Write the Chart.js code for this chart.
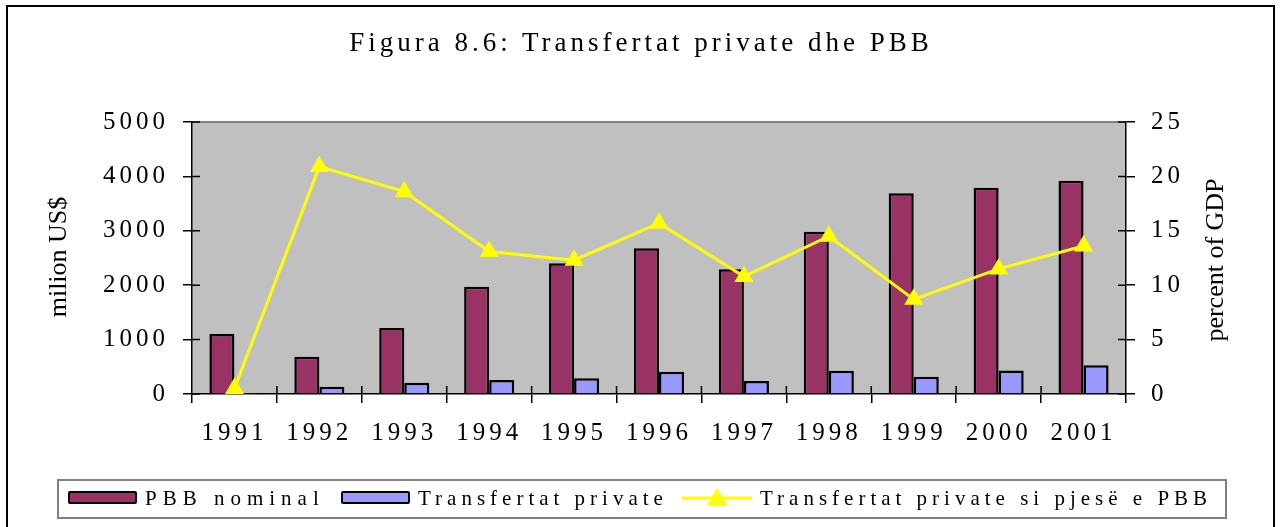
<!DOCTYPE html>
<html>
<head>
<meta charset="utf-8">
<script src="https://cdn.jsdelivr.net/npm/chart.js@4.4.1/dist/chart.umd.min.js"></script>
<style>
  body { margin: 0; background: #fff; }
  #wrap { position: relative; width: 1282px; height: 527px; overflow: hidden;
    font-family: "Liberation Serif", "Times New Roman", serif; color: #000; }
  #frame { position: absolute; left: 6px; top: 5px; width: 1269px; height: 560px; border: 2px solid #000; box-sizing: border-box; }
  #chart { position: absolute; left: 0; top: 0; }
  #title { position: absolute; left: 0; width: 1282px; top: 29px; text-align: center;
    font-size: 27px; line-height: 27px; letter-spacing: 4px; }
  .axisTitle { position: absolute; font-size: 26px; line-height: 26px; white-space: nowrap;
    transform: translate(-50%, -50%) rotate(-90deg); }
  #legend { position: absolute; left: 57px; top: 479px; width: 1170px; height: 40px;
    border: 2px solid #808080; box-sizing: border-box; }
  .sw { position: absolute; top: 10px; width: 69px; height: 13px; border: 2.5px solid #000;
    border-radius: 2px; box-sizing: border-box; }
  .lt { position: absolute; top: 5px; font-size: 21px; line-height: 24px; letter-spacing: 5px; white-space: nowrap; }
  #lineSw { position: absolute; left: 623px; top: 7px; width: 70px; height: 20px; }
</style>
</head>
<body>
<div id="wrap">
  <canvas id="chart" width="1282" height="527"></canvas>
  <div id="frame"></div>
  <div id="title">Figura 8.6: Transfertat private dhe PBB</div>
  <div class="axisTitle" style="left:58px;top:257px;">milion US$</div>
  <div class="axisTitle" style="left:1215px;top:260px;">percent of GDP</div>
  <div id="legend"></div>
</div>
<script>
const years = ['1991', '1992', '1993', '1994', '1995', '1996', '1997', '1998', '1999', '2000', '2001'];
const pbbNominal = [1105, 686, 1213, 1972, 2402, 2678, 2292, 2984, 3689, 3793, 3922];
const transfertat = [8, 134, 208, 257, 288, 410, 239, 428, 318, 430, 527];
const perqindja = [0.5, 20.9, 18.6, 13.1, 12.3, 15.7, 10.8, 14.5, 8.7, 11.5, 13.6];
const seriesNames = ['PBB nominal', 'Transfertat private', 'Transfertat private si pjesë e PBB'];
const leftTicks = [0, 1000, 2000, 3000, 4000, 5000];
const rightTicks = [0, 5, 10, 15, 20, 25];

const MAROON = '#993366';
const LILAC = '#9999FF';
const YELLOW = '#FFFF00';

// legend (html, so the line swatch can carry a triangle)
const legend = document.getElementById('legend');
legend.innerHTML =
  `<div class="sw" style="left:9px;background:${MAROON}"></div>` +
  `<div class="lt" style="left:86px;letter-spacing:6px">${seriesNames[0]}</div>` +
  `<div class="sw" style="left:282px;background:${LILAC}"></div>` +
  `<div class="lt" style="left:359px">${seriesNames[1]}</div>` +
  `<svg id="lineSw" viewBox="0 0 70 20"><line x1="0" y1="10" x2="70" y2="10" stroke="${YELLOW}" stroke-width="3"/>` +
  `<polygon points="35,0 45,17 25,17" fill="${YELLOW}"/></svg>` +
  `<div class="lt" style="left:701px">${seriesNames[2]}</div>`;

const plotBg = {
  id: 'plotBg',
  beforeDraw(chart) {
    const { ctx, chartArea: a } = chart;
    ctx.save();
    ctx.fillStyle = '#C0C0C0';
    ctx.fillRect(a.left, a.top, a.right - a.left, a.bottom - a.top);
    ctx.strokeStyle = '#808080';
    ctx.lineWidth = 2;
    ctx.beginPath();
    ctx.moveTo(a.left, a.top);
    ctx.lineTo(a.right, a.top);
    ctx.stroke();
    ctx.restore();
    chart.ctx.letterSpacing = '4px';
  },
  // inner half of the "cross" tick marks
  afterDatasetsDraw(chart) {
    const { ctx, chartArea: a, scales } = chart;
    ctx.save();
    ctx.strokeStyle = '#000';
    ctx.lineWidth = 1.5;
    ctx.beginPath();
    scales.y.ticks.forEach((t) => {
      const py = scales.y.getPixelForValue(t.value);
      ctx.moveTo(a.left, py); ctx.lineTo(a.left + 8, py);
    });
    scales.y1.ticks.forEach((t) => {
      const py = scales.y1.getPixelForValue(t.value);
      ctx.moveTo(a.right, py); ctx.lineTo(a.right - 8, py);
    });
    const step = (a.right - a.left) / years.length;
    for (let i = 1; i < years.length; i++) {
      const px = a.left + step * i;
      ctx.moveTo(px, a.bottom); ctx.lineTo(px, a.bottom - 8);
    }
    ctx.stroke();
    ctx.restore();
  }
};

const tickFont = { family: '"Liberation Serif", "Times New Roman", serif', size: 25 };
const plain = (v) => String(v);

new Chart(document.getElementById('chart'), {
  type: 'bar',
  data: {
    labels: years,
    datasets: [
      { label: seriesNames[2], type: 'line', data: perqindja, yAxisID: 'y1', order: 0,
        borderColor: YELLOW, borderWidth: 3, backgroundColor: YELLOW,
        pointStyle: 'triangle', pointRadius: 11, pointBorderWidth: 0, pointBackgroundColor: YELLOW,
        tension: 0 },
      { label: seriesNames[0], data: pbbNominal, yAxisID: 'y', order: 1,
        backgroundColor: MAROON, borderColor: '#000', borderWidth: 2.5 },
      { label: seriesNames[1], data: transfertat, yAxisID: 'y', order: 1,
        backgroundColor: LILAC, borderColor: '#000', borderWidth: 2.5 }
    ]
  },
  options: {
    responsive: false,
    animation: false,
    layout: { padding: { top: 122, bottom: 73, left: 0, right: 0 } },
    datasets: { bar: { categoryPercentage: 0.59, barPercentage: 1 } },
    plugins: { legend: { display: false }, title: { display: false }, tooltip: { enabled: false } },
    scales: {
      x: {
        offset: true,
        grid: { offset: true, drawOnChartArea: false, drawTicks: true, tickLength: 9, color: '#000', lineWidth: 1.5 },
        border: { color: '#000', width: 1.5 },
        ticks: { color: '#000', font: tickFont, padding: 15, maxRotation: 0 },
        afterFit(s) { s.height = 60; }
      },
      y: {
        position: 'left', min: 0, max: 5000,
        afterBuildTicks(s) { s.ticks = leftTicks.map((v) => ({ value: v })); },
        grid: { drawOnChartArea: false, tickLength: 9, color: '#000', lineWidth: 1.5 },
        border: { color: '#000', width: 1.5 },
        ticks: { color: '#000', font: tickFont, padding: 14, callback: plain },
        afterFit(s) { s.width = 192; }
      },
      y1: {
        position: 'right', min: 0, max: 25,
        afterBuildTicks(s) { s.ticks = rightTicks.map((v) => ({ value: v })); },
        grid: { drawOnChartArea: false, tickLength: 9, color: '#000', lineWidth: 1.5 },
        border: { color: '#000', width: 1.5 },
        ticks: { color: '#000', font: tickFont, padding: 16, callback: plain },
        afterFit(s) { s.width = 156; }
      }
    }
  },
  plugins: [plotBg]
});
</script>
</body>
</html>
